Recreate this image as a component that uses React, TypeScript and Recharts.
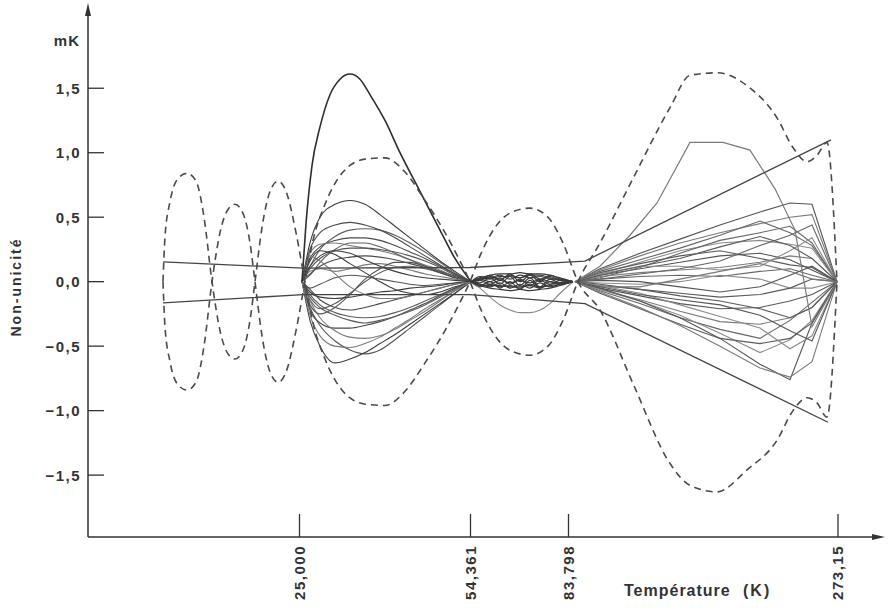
import React from 'react'
import { LineChart, Line, XAxis, YAxis } from 'recharts'

// abscissa is the position along the (non-linear) temperature axis, ordinate in mK
const TICK_POS = [299.5, 470.5, 568.5, 838]
const TICK_LABELS = ['25,000', '54,361', '83,798', '273,15']
const Y_TICKS = [-1.5, -1, -0.5, 0, 0.5, 1, 1.5]

// dashed envelopes
const DASH_X = [163, 165, 170, 178, 187, 196, 204, 212, 220, 228, 235, 243, 250, 255, 262, 270, 278, 287, 296, 305, 313, 325, 343, 365, 385, 405, 425, 445, 460, 470, 480, 495, 512, 530, 548, 563, 578, 600, 633, 670, 690, 717, 747, 777, 793, 807, 817, 827, 837]
const DASH_A = [0, 0.35, 0.62, 0.8, 0.84, 0.78, 0.5, 0, -0.38, -0.56, -0.6, -0.53, -0.3, 0, 0.42, 0.7, 0.78, 0.68, 0.38, 0, -0.32, -0.6, -0.85, -0.95, -0.96, -0.85, -0.63, -0.38, -0.16, 0, 0.2, 0.42, 0.54, 0.57, 0.5, 0.3, 0, -0.22, -0.79, -1.41, -1.58, -1.63, -1.46, -1.23, -1.0, -0.9, -0.94, -1.05, 0]
const DASH_B = [0, -0.35, -0.62, -0.8, -0.84, -0.78, -0.5, 0, 0.38, 0.56, 0.6, 0.53, 0.3, 0, -0.42, -0.7, -0.78, -0.68, -0.38, 0, 0.32, 0.6, 0.85, 0.95, 0.96, 0.85, 0.63, 0.38, 0.16, 0, -0.2, -0.42, -0.54, -0.57, -0.5, -0.3, 0, 0.3, 0.8, 1.35, 1.6, 1.62, 1.52, 1.27, 1.04, 0.93, 0.98, 1.08, 0]

// big solid hump between 25,000 and 54,361
const HUMP_X = [302, 306, 312, 320, 330, 340, 350, 360, 370, 385, 400, 420, 440, 455, 471]
const HUMP_Y = [0, 0.45, 0.9, 1.2, 1.45, 1.57, 1.61, 1.57, 1.45, 1.25, 1.0, 0.7, 0.4, 0.18, 0]

// the two nearly straight lines
const UPPER_X = [163, 303, 470, 585, 831]
const UPPER_Y = [0.153, 0.105, 0.11, 0.16, 1.1]
const LOWER_X = [163, 303, 470, 585, 828]
const LOWER_Y = [-0.165, -0.1, -0.1, -0.17, -1.09]

// family of curves 25,000 - 54,361
const LENS_X = [302, 310, 320, 335, 350, 365, 380, 395, 410, 425, 440, 455, 471]
const LENS = [
  [0, 0.3, 0.5, 0.6, 0.63, 0.6, 0.52, 0.43, 0.34, 0.25, 0.16, 0.08, 0],
  [0, 0.12, 0.25, 0.35, 0.4, 0.41, 0.4, 0.36, 0.3, 0.23, 0.15, 0.07, 0],
  [0, 0.18, 0.27, 0.32, 0.34, 0.34, 0.32, 0.28, 0.23, 0.18, 0.12, 0.06, 0],
  [0, 0.22, 0.29, 0.3, 0.28, 0.26, 0.24, 0.21, 0.17, 0.13, 0.09, 0.04, 0],
  [0, 0.1, 0.18, 0.24, 0.26, 0.26, 0.25, 0.23, 0.2, 0.16, 0.11, 0.05, 0],
  [0, 0.16, 0.24, 0.21, 0.14, 0.07, 0, -0.06, -0.09, -0.1, -0.08, -0.04, 0],
  [0, -0.14, -0.21, -0.17, -0.09, 0, 0.07, 0.11, 0.12, 0.1, 0.07, 0.03, 0],
  [0, 0.06, 0.12, 0.17, 0.19, 0.2, 0.19, 0.17, 0.14, 0.11, 0.07, 0.03, 0],
  [0, 0.08, 0.1, 0.08, 0.1, 0.13, 0.14, 0.12, 0.09, 0.06, 0.04, 0.02, 0],
  [0, -0.05, -0.02, 0.03, 0.05, 0.04, 0.02, 0, -0.02, -0.03, -0.02, -0.01, 0],
  [0, -0.08, -0.12, -0.13, -0.12, -0.1, -0.08, -0.07, -0.05, -0.04, -0.03, -0.01, 0],
  [0, -0.1, -0.18, -0.24, -0.27, -0.28, -0.27, -0.24, -0.2, -0.15, -0.1, -0.05, 0],
  [0, -0.22, -0.32, -0.36, -0.36, -0.34, -0.31, -0.27, -0.22, -0.17, -0.11, -0.05, 0],
  [0, -0.15, -0.28, -0.38, -0.43, -0.44, -0.42, -0.37, -0.3, -0.23, -0.15, -0.07, 0],
  [0, -0.2, -0.34, -0.46, -0.53, -0.56, -0.53, -0.45, -0.36, -0.27, -0.18, -0.09, 0],
  [0, -0.3, -0.5, -0.63, -0.6, -0.55, -0.48, -0.41, -0.33, -0.25, -0.17, -0.09, 0],
  [0, 0.05, 0.15, 0.25, 0.3, 0.3, 0.27, 0.22, 0.17, 0.12, 0.08, 0.04, 0],
  [0, -0.06, -0.14, -0.2, -0.22, -0.2, -0.17, -0.14, -0.11, -0.08, -0.05, -0.02, 0],
  [0, 0.2, 0.16, 0.06, -0.04, -0.1, -0.13, -0.13, -0.11, -0.08, -0.05, -0.02, 0],
  [0, -0.18, -0.25, -0.2, -0.1, 0.02, 0.1, 0.15, 0.15, 0.12, 0.08, 0.04, 0],
  [0, 0.12, 0.2, 0.24, 0.22, 0.17, 0.12, 0.08, 0.05, 0.03, 0.02, 0.01, 0],
  [0, -0.12, -0.2, -0.26, -0.3, -0.32, -0.3, -0.27, -0.23, -0.18, -0.12, -0.06, 0],
  [0, 0.25, 0.38, 0.44, 0.46, 0.44, 0.4, 0.34, 0.27, 0.2, 0.13, 0.06, 0],
  [0, -0.26, -0.42, -0.5, -0.51, -0.48, -0.43, -0.36, -0.29, -0.21, -0.14, -0.07, 0],
]

// narrow band 54,361 - 83,798
const BAND_X = [471, 480, 490, 500, 510, 520, 530, 540, 550, 560, 573]
const BAND = [
  [0, 0.03, 0.05, 0.06, 0.06, 0.07, 0.06, 0.06, 0.05, 0.03, 0],
  [0, -0.03, -0.05, -0.06, -0.07, -0.06, -0.07, -0.06, -0.05, -0.03, 0],
  [0, 0.02, 0, 0.03, -0.02, 0.02, -0.03, 0.01, -0.02, 0.01, 0],
  [0, -0.01, 0.03, -0.02, 0.04, -0.03, 0.03, -0.04, 0.02, -0.01, 0],
  [0, 0.04, 0.03, 0.05, 0.02, 0.05, 0.03, 0.04, 0.02, 0.02, 0],
  [0, -0.04, -0.02, -0.04, -0.03, -0.05, -0.02, -0.04, -0.03, -0.02, 0],
  [0, -0.05, -0.12, -0.18, -0.22, -0.24, -0.24, -0.22, -0.17, -0.09, 0],
  [0, 0.02, 0.04, 0.02, 0.05, 0.03, 0.06, 0.02, 0.04, 0.01, 0],
  [0, -0.02, -0.04, -0.01, -0.05, -0.02, -0.05, -0.01, -0.04, -0.02, 0],
  [0, 0.01, -0.02, 0.01, -0.01, 0.01, -0.01, 0.02, 0, -0.01, 0],
  [0, 0.03, 0.02, 0.04, 0.04, 0.03, 0.05, 0.05, 0.03, 0.01, 0],
  [0, -0.02, -0.03, -0.03, -0.04, -0.04, -0.03, -0.05, -0.02, -0.01, 0],
  [0, 0.01, 0.05, 0.01, 0.06, 0.0, 0.05, 0.0, 0.05, 0.02, 0],
  [0, -0.03, 0.0, -0.05, 0.0, -0.06, 0.01, -0.05, 0.0, -0.02, 0],
]

// fan of polylines 83,798 - 273,15
const FAN_X = [575, 600, 640, 680, 720, 760, 790, 812, 837]
const FAN = [
  [0, 0.1, 0.22, 0.33, 0.44, 0.54, 0.61, 0.6, 0],
  [0, 0.09, 0.2, 0.3, 0.38, 0.45, 0.5, 0.52, 0],
  [0, 0.08, 0.17, 0.26, 0.36, 0.47, 0.38, 0.28, 0],
  [0, 0.06, 0.15, 0.24, 0.3, 0.32, 0.29, 0.26, 0],
  [0, 0.07, 0.14, 0.2, 0.24, 0.18, 0.13, 0.11, 0],
  [0, 0.05, 0.1, 0.15, 0.2, 0.22, 0.17, 0.09, 0],
  [0, 0.04, 0.07, 0.09, 0.11, 0.15, 0.2, 0.18, 0],
  [0, 0.02, 0.04, 0.05, 0.04, 0.08, 0.1, 0.05, 0],
  [0, -0.01, -0.02, 0, 0.05, 0.02, -0.05, -0.05, 0],
  [0, -0.03, -0.06, -0.09, -0.12, -0.1, -0.05, 0.02, 0],
  [0, -0.05, -0.11, -0.17, -0.21, -0.2, -0.15, -0.1, 0],
  [0, -0.06, -0.14, -0.23, -0.31, -0.33, -0.28, -0.2, 0],
  [0, -0.07, -0.17, -0.28, -0.37, -0.44, -0.3, -0.16, 0],
  [0, -0.06, -0.15, -0.26, -0.4, -0.55, -0.45, -0.3, 0],
  [0, -0.09, -0.21, -0.33, -0.44, -0.48, -0.44, -0.32, 0],
  [0, -0.05, -0.15, -0.28, -0.44, -0.64, -0.76, -0.32, 0],
  [0, -0.08, -0.2, -0.34, -0.5, -0.67, -0.74, -0.62, 0],
  [0, 0.03, 0.11, 0.22, 0.32, 0.38, 0.43, 0.3, 0],
  [0, 0.06, 0.12, 0.12, 0.09, 0.12, 0.24, 0.34, 0],
  [0, -0.02, -0.06, -0.11, -0.15, -0.21, -0.28, -0.2, 0],
  [0, 0.01, 0, -0.04, -0.08, -0.04, 0.05, 0.12, 0],
  [0, -0.04, -0.04, 0.02, 0.08, 0.14, 0.08, 0.02, 0],
  [0, 0.02, 0.06, 0.1, 0.16, 0.28, 0.36, 0.44, 0],
  [0, -0.03, -0.09, -0.18, -0.27, -0.36, -0.52, -0.42, 0],
  [0, 0.05, 0.12, 0.18, 0.27, 0.35, 0.28, 0.18, 0],
  [0, -0.04, -0.1, -0.14, -0.18, -0.26, -0.38, -0.46, 0],
]

// the one polyline of the fan that climbs above 1 mK
const PEAK_X = [575, 600, 630, 657, 690, 723, 750, 775, 795, 812, 837]
const PEAK_Y = [0, 0.12, 0.36, 0.61, 1.08, 1.08, 1.02, 0.72, 0.4, -0.35, 0]

const LENS_INK = ['#3c3c3c', '#5e5e5e', '#4a4a4a', '#7a7a7a', '#555']
const FAN_INK = ['#555', '#7a7a7a', '#666', '#8c8c8c', '#5a5a5a']
const FONT = '"Liberation Sans", Arial, sans-serif'
const INK = '#333'

const pts = (xs: number[], ys: number[]) => xs.map((x, i) => ({ x, y: ys[i] }))

const fmtY = (v: number) => v.toFixed(1).replace('.', ',').replace('-', '\u2212')

function YTick(props: any) {
  const { x, y, payload } = props
  return (
    <g>
      <line x1={x} y1={y} x2={x + 16} y2={y} stroke={INK} strokeWidth={1.3} />
      <text x={x - 7} y={y} dy="0.36em" textAnchor="end" fontFamily={FONT} fontWeight="bold"
        fontSize={15} letterSpacing={1.5} fill={INK}>
        {fmtY(payload.value)}
      </text>
    </g>
  )
}

function XTick(props: any) {
  const { x, y, payload } = props
  const label = TICK_LABELS[TICK_POS.indexOf(payload.value)]
  return (
    <g transform={`translate(${x},${y})`}>
      <line x1={0} y1={0} x2={0} y2={-23} stroke={INK} strokeWidth={1.3} />
      <text transform="rotate(-90)" x={-8} y={5} textAnchor="end" fontFamily={FONT} fontWeight="bold"
        fontSize={15} letterSpacing={1.5} fill={INK}>
        {label}
      </text>
    </g>
  )
}

export default function App() {
  return (
    <div style={{ position: 'absolute', left: 0, top: 0, width: 893, height: 613, background: '#fff' }}>
      <LineChart width={893} height={613} margin={{ top: 7, right: 13, left: 0, bottom: 0 }}>
        <XAxis type="number" dataKey="x" domain={[88, 880]} allowDataOverflow ticks={TICK_POS}
          height={76} tickSize={0} tickMargin={0} tickLine={false} tick={<XTick />}
          axisLine={{ stroke: INK, strokeWidth: 1.5 }} />
        <YAxis type="number" domain={[-1.98, 2.13]} allowDataOverflow ticks={Y_TICKS}
          width={88} tickSize={0} tickMargin={0} tickLine={false} tick={<YTick />}
          axisLine={{ stroke: INK, strokeWidth: 1.5 }} />

        {LENS.map((ys, i) => (
          <Line key={'l' + i} data={pts(LENS_X, ys)} dataKey="y" type="monotone" dot={false}
            activeDot={false} stroke={LENS_INK[i % LENS_INK.length]} strokeWidth={1.1} isAnimationActive={false} />
        ))}
        {BAND.map((ys, i) => (
          <Line key={'b' + i} data={pts(BAND_X, ys)} dataKey="y" type="monotone" dot={false}
            activeDot={false} stroke={i === 6 ? '#8a8a8a' : '#3a3a3a'} strokeWidth={1.2} isAnimationActive={false} />
        ))}
        {FAN.map((ys, i) => (
          <Line key={'f' + i} data={pts(FAN_X, ys)} dataKey="y" type="linear" dot={false}
            activeDot={false} stroke={FAN_INK[i % FAN_INK.length]} strokeWidth={1.1} isAnimationActive={false} />
        ))}
        <Line data={pts(PEAK_X, PEAK_Y)} dataKey="y" type="linear" dot={false} activeDot={false}
          stroke="#7a7a7a" strokeWidth={1.2} isAnimationActive={false} />

        <Line data={pts(UPPER_X, UPPER_Y)} dataKey="y" type="linear" dot={false} activeDot={false}
          stroke="#444" strokeWidth={1.3} isAnimationActive={false} />
        <Line data={pts(LOWER_X, LOWER_Y)} dataKey="y" type="linear" dot={false} activeDot={false}
          stroke="#444" strokeWidth={1.3} isAnimationActive={false} />
        <Line data={pts(HUMP_X, HUMP_Y)} dataKey="y" type="monotone" dot={false} activeDot={false}
          stroke="#2e2e2e" strokeWidth={1.6} isAnimationActive={false} />

        <Line data={pts(DASH_X, DASH_A)} dataKey="y" type="monotone" dot={false} activeDot={false}
          stroke="#4a4a4a" strokeWidth={1.6} strokeDasharray="7 5" isAnimationActive={false} />
        <Line data={pts(DASH_X, DASH_B)} dataKey="y" type="monotone" dot={false} activeDot={false}
          stroke="#4a4a4a" strokeWidth={1.6} strokeDasharray="7 5" isAnimationActive={false} />
      </LineChart>

      <svg width={893} height={613} style={{ position: 'absolute', left: 0, top: 0, pointerEvents: 'none' }}>
        <polygon points="88,3 85,16 91,16" fill={INK} />
        <polygon points="885,537 872,534 872,540" fill={INK} />
        <text x={80} y={46} textAnchor="end" fontFamily={FONT} fontWeight="bold" fontSize={15}
          letterSpacing={1} fill={INK}>mK</text>
        <text transform="translate(21,287) rotate(-90)" textAnchor="middle" fontFamily={FONT}
          fontWeight="bold" fontSize={14} letterSpacing={2} fill={INK}>Non-unicité</text>
        <text x={624} y={596} fontFamily={FONT} fontWeight="bold" fontSize={16} letterSpacing={1}
          fill={INK}>Température</text>
        <text x={743} y={596} fontFamily={FONT} fontWeight="bold" fontSize={16} letterSpacing={2}
          fill={INK}>(K)</text>
      </svg>
    </div>
  )
}
